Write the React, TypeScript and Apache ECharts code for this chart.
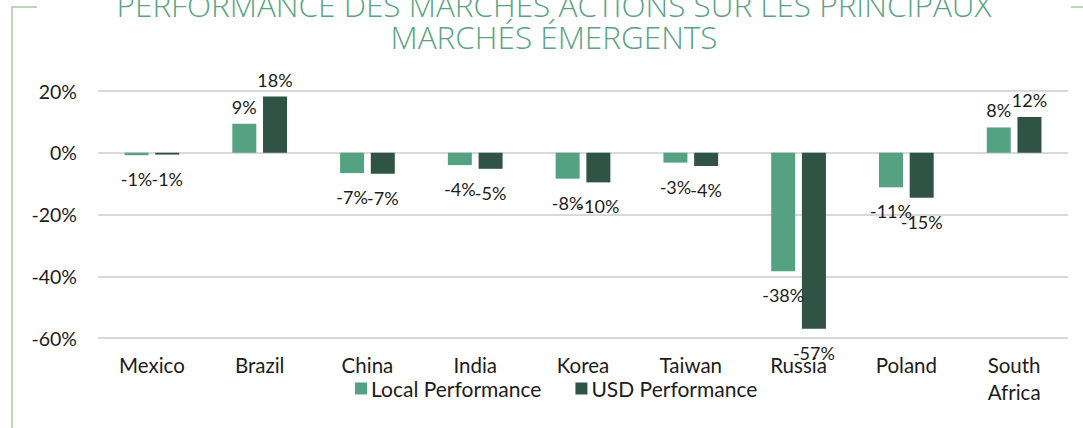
import React, { useEffect, useRef } from "react";
import * as echarts from "echarts";

const categories = ["Mexico", "Brazil", "China", "India", "Korea", "Taiwan", "Russia", "Poland", "South\nAfrica"];
const localPerf = [-0.8, 9.4, -6.6, -4.0, -8.4, -3.2, -38.4, -11.2, 8.2];
const usdPerf = [-0.6, 18.2, -6.8, -5.2, -9.6, -4.3, -57.0, -14.6, 11.6];
const seriesNames = ["Local Performance", "USD Performance"];
const titleLines = ["PERFORMANCE DES MARCHÉS ACTIONS SUR LES PRINCIPAUX", "MARCHÉS ÉMERGENTS"];
const yTicks = { min: -60, max: 20, interval: 20 };

const LOCAL = "#55a283";
const USD = "#2f5446";
const TEXT = "#1c1c1c";
const FONT = "Lato";

function makeData(vals: number[]) {
  return vals.map((v) => ({
    value: v,
    label: {
      position: v >= 0 ? "top" : "bottom",
      distance: v >= 0 ? 8 : 15,
    },
  }));
}

export default function App() {
  const ref = useRef<HTMLDivElement>(null);
  useEffect(() => {
    const chart = echarts.init(ref.current!, null, { renderer: "svg" });
    const labelCommon = {
      show: true,
      color: TEXT,
      fontFamily: FONT,
      fontSize: 18,
      formatter: (p: any) => Math.round(p.value) + "%",
    };
    chart.setOption({
      animation: false,
      backgroundColor: "#ffffff",
      grid: { left: 98, right: 15, top: 91, bottom: 90 },
      legend: {
        bottom: 24,
        left: 350,
        itemWidth: 12,
        itemHeight: 12,
        itemGap: 34,
        icon: "rect",
        textStyle: { color: TEXT, fontFamily: FONT, fontSize: 21, padding: [0, 0, 0, -1] },
        data: seriesNames,
      },
      xAxis: {
        type: "category",
        data: categories,
        axisLine: { show: false, onZero: false },
        axisTick: { show: false },
        axisLabel: { color: TEXT, fontFamily: FONT, fontSize: 20.5, margin: 13, lineHeight: 27 },
      },
      yAxis: {
        type: "value",
        min: yTicks.min,
        max: yTicks.max,
        interval: yTicks.interval,
        axisLabel: { color: TEXT, fontFamily: FONT, fontSize: 19.5, margin: 21, formatter: "{value}%" },
        splitLine: { lineStyle: { color: "#d9d9d9", width: 2 } },
        axisLine: { show: false },
        axisTick: { show: false },
      },
      series: [
        {
          name: seriesNames[0],
          type: "bar",
          data: makeData(localPerf),
          itemStyle: { color: LOCAL },
          barWidth: 24,
          barGap: "28%",
          label: labelCommon,
        },
        {
          name: seriesNames[1],
          type: "bar",
          data: makeData(usdPerf),
          itemStyle: { color: USD },
          barWidth: 24,
          label: labelCommon,
        },
      ],
      graphic: [
        {
          type: "polyline",
          shape: { points: [[37, 7], [12, 7], [12, 428]] },
          style: { stroke: "#bcd6bc", lineWidth: 2, fill: null },
        },
        {
          type: "line",
          shape: { x1: 1071, y1: 7, x2: 1083, y2: 7 },
          style: { stroke: "#bcd6bc", lineWidth: 2 },
        },
        {
          type: "text",
          x: 554,
          y: 4,
          style: {
            text: titleLines[0],
            fill: "#5aa385",
            font: "300 31.5px 'Open Sans'",
            align: "center",
            verticalAlign: "middle",
          },
        },
        {
          type: "text",
          x: 554,
          y: 36,
          style: {
            text: titleLines[1],
            fill: "#5aa385",
            font: "300 31.5px 'Open Sans'",
            align: "center",
            verticalAlign: "middle",
          },
        },
      ],
    });
    return () => chart.dispose();
  }, []);
  return (
    <div
      ref={ref}
      style={{ position: "fixed", left: 0, top: 0, width: 1083, height: 428 }}
    />
  );
}
